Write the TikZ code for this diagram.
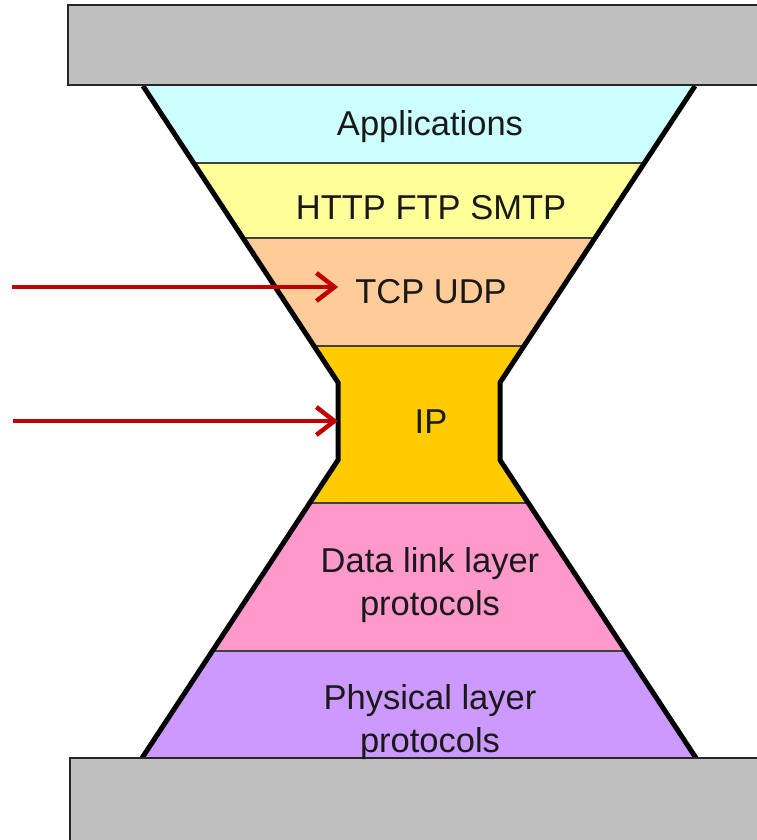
\documentclass[tikz,border=0pt]{standalone}
\usepackage{fontspec}
\setmainfont{Liberation Sans}
\usetikzlibrary{arrows.meta}
\definecolor{barGray}{HTML}{C0C0C0}
\definecolor{appCyan}{HTML}{CCFFFF}
\definecolor{protoYellow}{HTML}{FFFF99}
\definecolor{transOrange}{HTML}{FFCC99}
\definecolor{ipGold}{HTML}{FFCC00}
\definecolor{linkPink}{HTML}{FF99CC}
\definecolor{physPurple}{HTML}{CC99FF}
\definecolor{arrowRed}{HTML}{C00000}
\begin{document}
\begin{tikzpicture}[x=1pt,y=-1pt,
  bar/.style={fill=barGray, draw=black!85, line width=2.2pt},
  divider/.style={draw=black!75, line width=1.6pt},
  rim/.style={draw=black, line width=5pt, line join=miter},
  lbl/.style={anchor=base, inner sep=0pt, align=center,
    font=\fontsize{34.5}{43}\selectfont, text=black!90},
  pointer/.style={draw=arrowRed, line width=4.5pt,
    -{Straight Barb[length=18pt,width=28pt]}}]
\useasboundingbox (0,0) rectangle (756,840);

% hourglass body: bands clipped to the outline
\begin{scope}
  \clip (143,86) -- (338,382.5) -- (338,460) -- (142,758)
     -- (696,758) -- (500,460) -- (500,382.5) -- (695,86) -- cycle;
  \fill[appCyan]     (100,80)  rectangle (740,163);
  \fill[protoYellow] (100,163) rectangle (740,238);
  \fill[transOrange] (100,238) rectangle (740,346);
  \fill[ipGold]      (100,346) rectangle (740,503);
  \fill[linkPink]    (100,503) rectangle (740,651);
  \fill[physPurple]  (100,651) rectangle (740,765);
  \foreach \yy in {163,238,346,503,651}
    \draw[divider] (100,\yy) -- (740,\yy);
\end{scope}

% thick outline of the narrow waist
\coordinate (ipL) at (338,421);
\draw[rim] (143,86) -- (338,382.5) -- (338,460) -- (142,758);
\draw[rim] (695,86) -- (500,382.5) -- (500,460) -- (696,758);

% top and bottom plates
\draw[bar] (68,5) rectangle (770,85);
\draw[bar] (70,758) rectangle (770,850);

% layer labels (two-line labels sit on the baseline of their last line)
\node[lbl] (app)  at (430,135.5) {Applications};
\node[lbl] (http) at (431,219)   {HTTP FTP SMTP};
\node[lbl] (tcp)  at (431,303)   {TCP UDP};
\node[lbl] (ip)   at (431,433)   {IP};
\node[lbl] (link) at (430,615)   {Data link layer\\protocols};
\node[lbl] (phys) at (430,752)   {Physical layer\\protocols};

% pointers from the left margin
\coordinate (t1) at (12,287);
\coordinate (t2) at (13,421);
\draw[pointer, shorten >=17pt] (t1) -- (t1 -| tcp.west);
\draw[pointer] (t2) -- (ipL);
\end{tikzpicture}
\end{document}
